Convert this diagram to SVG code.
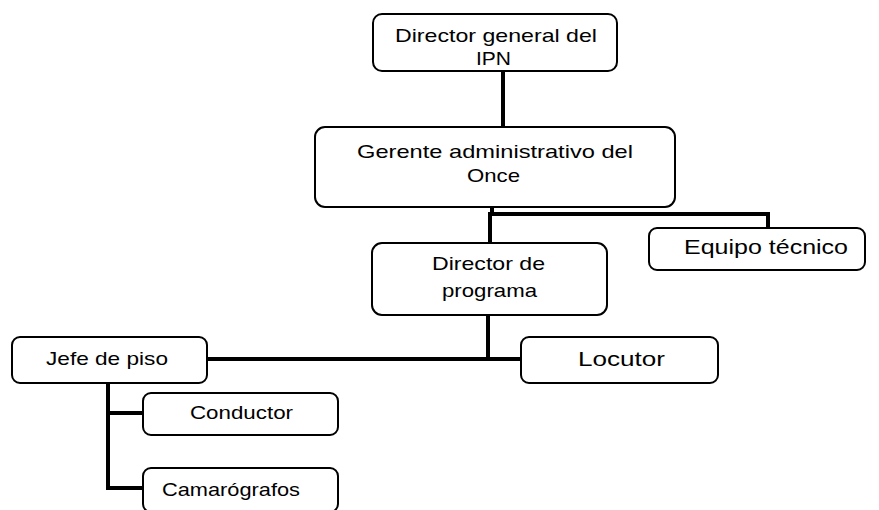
<svg xmlns="http://www.w3.org/2000/svg" width="879" height="510" viewBox="0 0 879 510">
<style>
.box{fill:#fff;stroke:#000;stroke-width:2}
.t{font-family:"Liberation Sans",Arial,sans-serif;font-size:19px;fill:#000;text-anchor:start}
.b{font-size:20px}
.c{fill:none;stroke:#000;stroke-width:4}
</style>
<rect width="879" height="510" fill="#fff"/>
<g id="connectors">
<line class="c" x1="503" y1="71" x2="503" y2="128"/>
<polyline class="c" points="492,207 492,214 768,214 768,228"/>
<line class="c" x1="490" y1="212" x2="490" y2="243"/>
<line class="c" x1="488" y1="315" x2="488" y2="359"/>
<line class="c" x1="207" y1="359" x2="521" y2="359"/>
<polyline class="c" points="108,383 108,488 143,488"/>
<line class="c" x1="108" y1="413" x2="143" y2="413"/>
</g>
<g id="n1">
<rect class="box" x="373" y="14" width="244" height="57" rx="9"/>
<text class="t" x="395" y="42" textLength="202" lengthAdjust="spacingAndGlyphs">Director general del</text>
<text class="t" x="476" y="65" textLength="35" lengthAdjust="spacingAndGlyphs">IPN</text>
</g>
<g id="n2">
<rect class="box" x="315" y="127" width="360" height="80" rx="10"/>
<text class="t" x="357" y="158" textLength="276" lengthAdjust="spacingAndGlyphs">Gerente  administrativo del</text>
<text class="t" x="467" y="182" textLength="53" lengthAdjust="spacingAndGlyphs">Once</text>
</g>
<g id="n3">
<rect class="box" x="649" y="228" width="216" height="42" rx="8"/>
<text class="t b" x="684" y="254" textLength="164" lengthAdjust="spacingAndGlyphs">Equipo técnico</text>
</g>
<g id="n4">
<rect class="box" x="372" y="243" width="235" height="72" rx="10"/>
<text class="t" x="432" y="270" textLength="113" lengthAdjust="spacingAndGlyphs">Director de</text>
<text class="t" x="442" y="297" textLength="95" lengthAdjust="spacingAndGlyphs">programa</text>
</g>
<g id="n5">
<rect class="box" x="12" y="337" width="195" height="46" rx="8"/>
<text class="t" x="46" y="365" textLength="122" lengthAdjust="spacingAndGlyphs">Jefe de piso</text>
</g>
<g id="n6">
<rect class="box" x="521" y="337" width="197" height="46" rx="8"/>
<text class="t b" x="578" y="366" textLength="87" lengthAdjust="spacingAndGlyphs">Locutor</text>
</g>
<g id="n7">
<rect class="box" x="143" y="393" width="195" height="42" rx="8"/>
<text class="t" x="190" y="419" textLength="103" lengthAdjust="spacingAndGlyphs">Conductor</text>
</g>
<g id="n8">
<rect class="box" x="143" y="468" width="195" height="44" rx="8"/>
<text class="t" x="162" y="496" textLength="138" lengthAdjust="spacingAndGlyphs">Camarógrafos</text>
</g>
</svg>
